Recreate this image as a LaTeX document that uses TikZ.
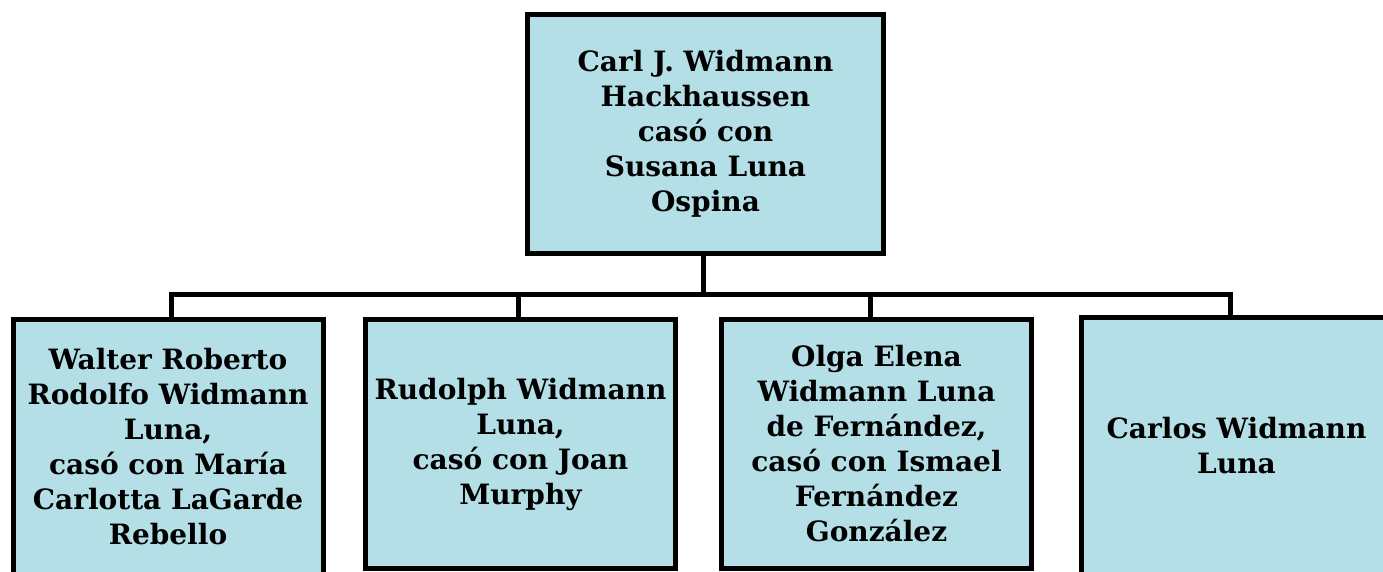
\documentclass[tikz,border=0pt]{standalone}
\usepackage{fontspec}
\setmainfont{DejaVu Serif}
\usepackage{xcolor}
\definecolor{boxblue}{RGB}{180,223,230}

\begin{document}
\begin{tikzpicture}[x=1pt,y=-1pt]
\useasboundingbox (0,0) rectangle (1383,571);
\clip (0,0) rectangle (1383,571);
\begin{scope}[every node/.style={rectangle,draw=black,line width=5pt,fill=boxblue,align=center,inner sep=0pt,minimum width=310pt,font=\bfseries\fontsize{28}{35}\selectfont}]
\node[minimum width=356pt,minimum height=239pt] (0) at (705.5,134) {Carl J. Widmann\\Hackhaussen\\cas\'o con\\Susana Luna\\Ospina};

\node[minimum height=254.5pt] (1) at (168,446.75) {Walter Roberto\\Rodolfo Widmann\\Luna,\\cas\'o con Mar\'ia\\Carlotta LaGarde\\Rebello};
\node[minimum height=249pt] (2) at (520.5,444) {Rudolph Widmann\\Luna,\\cas\'o con Joan\\Murphy};
\node[minimum height=249pt] (3) at (876.5,444) {Olga Elena\\Widmann Luna\\de Fern\'andez,\\cas\'o con Ismael\\Fern\'andez\\Gonz\'alez};
\node[minimum height=256.5pt] (4) at (1236.5,445.75) {Carlos Widmann\\Luna};
\end{scope}

% bus line
\coordinate (bus) at (703,294.5);
\coordinate (b1) at (171,294.5);
\coordinate (b2) at (518,294.5);
\coordinate (b3) at (870,294.5);
\coordinate (b4) at (1230,294.5);

\draw[line width=5pt] (0.south -| bus) -- (bus);
\draw[line width=5pt] (b1 |- 1.north) -- (b1) -- (b4) -- (b4 |- 4.north);
\draw[line width=5pt] (b2) -- (b2 |- 2.north);
\draw[line width=5pt] (b3) -- (b3 |- 3.north);
\end{tikzpicture}
\end{document}
